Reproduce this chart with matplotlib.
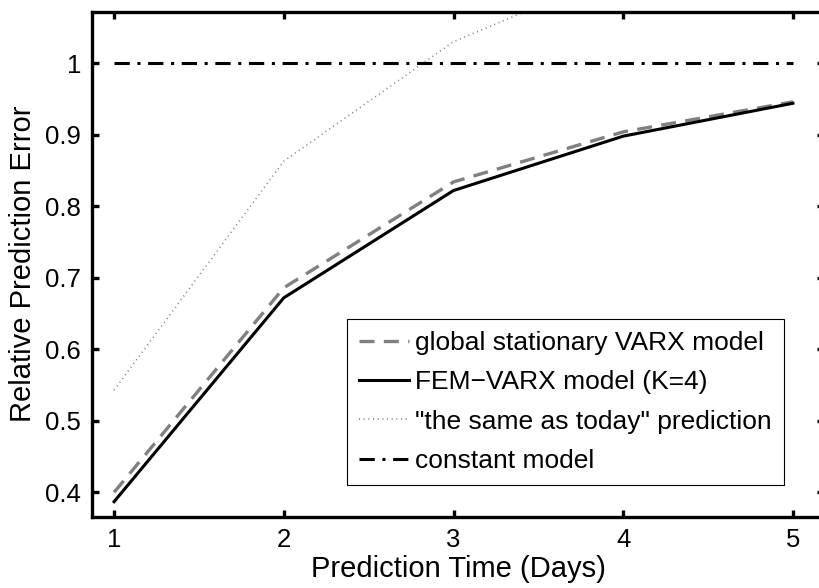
import matplotlib
matplotlib.use("Agg")
import matplotlib.pyplot as plt

plt.rcParams['font.family'] = ['Liberation Sans', 'DejaVu Sans']

# prediction horizon in days
days = [1, 2, 3, 4, 5]
# relative prediction errors
err_global = [0.400, 0.686, 0.834, 0.904, 0.946]
err_fem = [0.387, 0.672, 0.822, 0.898, 0.944]
err_same = [0.543, 0.863, 1.030, 1.13, 1.20]
err_const = [1.0, 1.0, 1.0, 1.0, 1.0]

legend_labels = ['global stationary VARX model', 'FEM\u2212VARX model (K=4)',
                 '"the same as today" prediction', 'constant model']

fig = plt.figure(figsize=(8.19, 5.88), dpi=100)
ax = fig.add_axes([92 / 819, 1 - 516.7 / 588, (824 - 92) / 819, (516.7 - 11.7) / 588])

ax.plot(days, err_global, color='#808080', linewidth=2.4, dashes=(4.5, 2.8),
        label=legend_labels[0])
ax.plot(days, err_fem, color='black', linewidth=2.2, label=legend_labels[1])
ax.plot(days, err_same, color='#808080', linewidth=1.2, dashes=(0.6, 2.2),
        label=legend_labels[2])
ax.plot(days, err_const, color='black', linewidth=2.2, dashes=(5, 2.5, 1, 2.5),
        label=legend_labels[3])

ax.set_xlim(0.87, 5.183)
ax.set_ylim(0.366, 1.072)
ax.set_xticks(days)
ax.set_yticks([0.4, 0.5, 0.6, 0.7, 0.8, 0.9, 1.0])
ax.set_yticklabels(['0.4', '0.5', '0.6', '0.7', '0.8', '0.9', '1'])

for s in ax.spines.values():
    s.set_linewidth(2.4)
ax.tick_params(direction='in', length=5, width=2.4, labelsize=18.5,
               top=True, right=True, pad=8)

ax.set_xlabel('Prediction Time (Days)', fontsize=21, labelpad=2)
ax.set_ylabel('Relative Prediction Error', fontsize=21, labelpad=6)

leg = ax.legend(loc='lower right', bbox_to_anchor=(0.945, 0.063), fontsize=19,
                fancybox=False, framealpha=1, edgecolor='black', borderaxespad=0,
                handlelength=1.9, handletextpad=0.25, labelspacing=0.58,
                borderpad=0.45)
leg.get_frame().set_linewidth(0.8)

fig.savefig('out.png', dpi=100)
